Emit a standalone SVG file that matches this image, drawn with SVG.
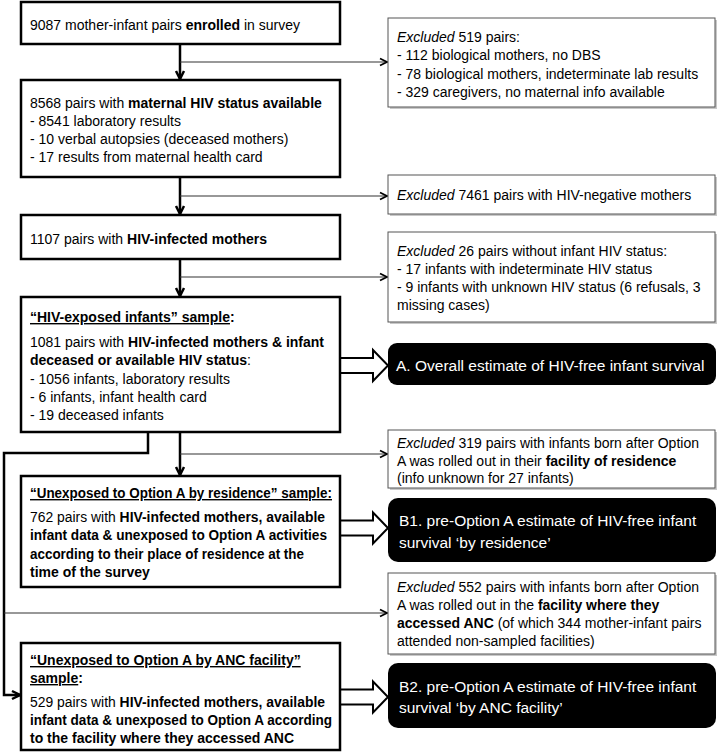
<svg xmlns="http://www.w3.org/2000/svg" width="720" height="753" viewBox="0 0 720 753">
<defs>
<style>
text{font-family:"Liberation Sans",Arial,sans-serif;font-size:14px;fill:#000}
.b{font-weight:bold}
.i{font-style:italic}
.u{text-decoration:underline}
.w{fill:#fff;font-size:15.5px}
.main{fill:#fff;stroke:#000;stroke-width:2.5}
.ex{fill:#fff;stroke:#555;stroke-width:1}
.sh{fill:#c8c8c8}
.blk{fill:#000}
.thick{fill:none;stroke:#000;stroke-width:2.5}
.thin{fill:none;stroke:#333;stroke-width:1.2}
.blockarrow{fill:#fff;stroke:#000;stroke-width:2;stroke-linejoin:miter}
</style>
<marker id="ahT" viewBox="0 0 12 12" refX="10" refY="6" markerWidth="12" markerHeight="12" markerUnits="userSpaceOnUse" orient="auto">
<path d="M2,2 L10,6 L2,10" fill="none" stroke="#000" stroke-width="2.5"/>
</marker>
<marker id="ahS" viewBox="0 0 10 10" refX="9" refY="5" markerWidth="10" markerHeight="10" markerUnits="userSpaceOnUse" orient="auto">
<path d="M2,1.5 L9,5 L2,8.5" fill="none" stroke="#000" stroke-width="1.8"/>
</marker>
</defs>

<g id="connectors">
<line class="thick" x1="180" y1="44" x2="180" y2="79" marker-end="url(#ahT)"/>
<line class="thick" x1="180" y1="177" x2="180" y2="214" marker-end="url(#ahT)"/>
<line class="thick" x1="180" y1="259" x2="180" y2="296" marker-end="url(#ahT)"/>
<line class="thick" x1="180" y1="432" x2="180" y2="475" marker-end="url(#ahT)"/>
<polyline class="thick" points="148,432 148,453 4,453 4,695 20,695" marker-end="url(#ahT)"/>
<line class="thin" x1="180" y1="62" x2="387" y2="62" marker-end="url(#ahS)"/>
<line class="thin" x1="180" y1="196" x2="387" y2="196" marker-end="url(#ahS)"/>
<line class="thin" x1="180" y1="277" x2="387" y2="277" marker-end="url(#ahS)"/>
<line class="thin" x1="180" y1="454" x2="387" y2="454" marker-end="url(#ahS)"/>
<line class="thin" x1="4" y1="613" x2="387" y2="613" marker-end="url(#ahS)"/>
<polygon class="blockarrow" points="340,358 373,358 373,350 388,365.5 373,381 373,373 340,373"/>
<polygon class="blockarrow" points="340,520.5 373,520.5 373,512.5 388,528 373,543.5 373,535.5 340,535.5"/>
<polygon class="blockarrow" points="340,689.5 373,689.5 373,681.5 388,697 373,712.5 373,704.5 340,704.5"/>
</g>

<g id="n1">
<rect class="main" x="21" y="2" width="319" height="42"/>
<text x="30" y="30">9087 mother-infant pairs <tspan class="b">enrolled</tspan> in survey</text>
</g>

<g id="ex1">
<rect class="sh" x="390" y="20" width="327" height="89"/>
<rect class="ex" x="388" y="18" width="327" height="89"/>
<text x="397" y="42"><tspan class="i">Excluded</tspan> 519 pairs:</text>
<text x="397" y="60">- 112 biological mothers, no DBS</text>
<text x="397" y="79">- 78 biological mothers, indeterminate lab results</text>
<text x="397" y="97">- 329 caregivers, no maternal info available</text>
</g>

<g id="n2">
<rect class="main" x="21" y="80" width="319" height="97"/>
<text x="30" y="108">8568 pairs with <tspan class="b">maternal HIV status available</tspan></text>
<text x="30" y="126">- 8541 laboratory results</text>
<text x="30" y="144">- 10 verbal autopsies (deceased mothers)</text>
<text x="30" y="162">- 17 results from maternal health card</text>
</g>

<g id="ex2">
<rect class="sh" x="390" y="177" width="327" height="39"/>
<rect class="ex" x="388" y="175" width="327" height="39"/>
<text x="397" y="200"><tspan class="i">Excluded</tspan> 7461 pairs with HIV-negative mothers</text>
</g>

<g id="n3">
<rect class="main" x="21" y="215" width="319" height="44"/>
<text x="30" y="244">1107 pairs with <tspan class="b">HIV-infected mothers</tspan></text>
</g>

<g id="ex3">
<rect class="sh" x="390" y="234" width="327" height="90"/>
<rect class="ex" x="388" y="232" width="327" height="90"/>
<text x="397" y="256"><tspan class="i">Excluded</tspan> 26 pairs without infant HIV status:</text>
<text x="397" y="274">- 17 infants with indeterminate HIV status</text>
<text x="397" y="292">- 9 infants with unknown HIV status (6 refusals, 3</text>
<text x="397" y="310">missing cases)</text>
</g>

<g id="n4">
<rect class="main" x="21" y="297" width="319" height="135"/>
<text x="30" y="322" class="b"><tspan class="u">“HIV-exposed infants” sample</tspan>:</text>
<text x="30" y="347" textLength="294" lengthAdjust="spacingAndGlyphs">1081 pairs with <tspan class="b">HIV-infected mothers &amp; infant</tspan></text>
<text x="30" y="365"><tspan class="b">deceased or available HIV status</tspan>:</text>
<text x="30" y="384">- 1056 infants, laboratory results</text>
<text x="30" y="402">- 6 infants, infant health card</text>
<text x="30" y="420">- 19 deceased infants</text>
</g>

<g id="outA">
<rect class="blk" x="388" y="343" width="328" height="42" rx="9"/>
<text class="w" x="396" y="371">A. Overall estimate of HIV-free infant survival</text>
</g>

<g id="ex4">
<rect class="sh" x="390" y="432" width="327" height="58"/>
<rect class="ex" x="388" y="430" width="327" height="58"/>
<text x="397" y="448"><tspan class="i">Excluded</tspan> 319 pairs with infants born after Option</text>
<text x="397" y="466">A was rolled out in their <tspan class="b">facility of residence</tspan></text>
<text x="397" y="483">(info unknown for 27 infants)</text>
</g>

<g id="n5">
<rect class="main" x="21" y="476" width="319" height="111"/>
<text x="30" y="498" class="b u" textLength="302" lengthAdjust="spacingAndGlyphs">“Unexposed to Option A by residence” sample:</text>
<text x="30" y="522" textLength="295" lengthAdjust="spacingAndGlyphs">762 pairs with <tspan class="b">HIV-infected mothers, available</tspan></text>
<text x="30" y="540" class="b" textLength="297" lengthAdjust="spacingAndGlyphs">infant data &amp; unexposed to Option A activities</text>
<text x="30" y="559" class="b" textLength="274" lengthAdjust="spacingAndGlyphs">according to their place of residence at the</text>
<text x="30" y="577" class="b">time of the survey</text>
</g>

<g id="outB1">
<rect class="blk" x="388" y="498" width="328" height="64" rx="10"/>
<text class="w" x="399" y="526">B1. pre-Option A estimate of HIV-free infant</text>
<text class="w" x="399" y="548">survival ‘by residence’</text>
</g>

<g id="ex5">
<rect class="sh" x="390" y="575" width="327" height="81"/>
<rect class="ex" x="388" y="573" width="327" height="81"/>
<text x="397" y="592"><tspan class="i">Excluded</tspan> 552 pairs with infants born after Option</text>
<text x="397" y="610">A was rolled out in the <tspan class="b">facility where they</tspan></text>
<text x="397" y="628"><tspan class="b">accessed ANC</tspan> (of which 344 mother-infant pairs</text>
<text x="397" y="646">attended non-sampled facilities)</text>
</g>

<g id="n6">
<rect class="main" x="21" y="643" width="319" height="107"/>
<text x="30" y="665" class="b u">“Unexposed to Option A by ANC facility”</text>
<text x="30" y="683" class="b"><tspan class="u">sample</tspan>:</text>
<text x="30" y="707" textLength="295" lengthAdjust="spacingAndGlyphs">529 pairs with <tspan class="b">HIV-infected mothers, available</tspan></text>
<text x="30" y="725" class="b" textLength="302" lengthAdjust="spacingAndGlyphs">infant data &amp; unexposed to Option A according</text>
<text x="30" y="743" class="b">to the facility where they accessed ANC</text>
</g>

<g id="outB2">
<rect class="blk" x="388" y="663" width="328" height="65" rx="10"/>
<text class="w" x="399" y="692">B2. pre-Option A estimate of HIV-free infant</text>
<text class="w" x="399" y="713">survival ‘by ANC facility’</text>
</g>
</svg>
